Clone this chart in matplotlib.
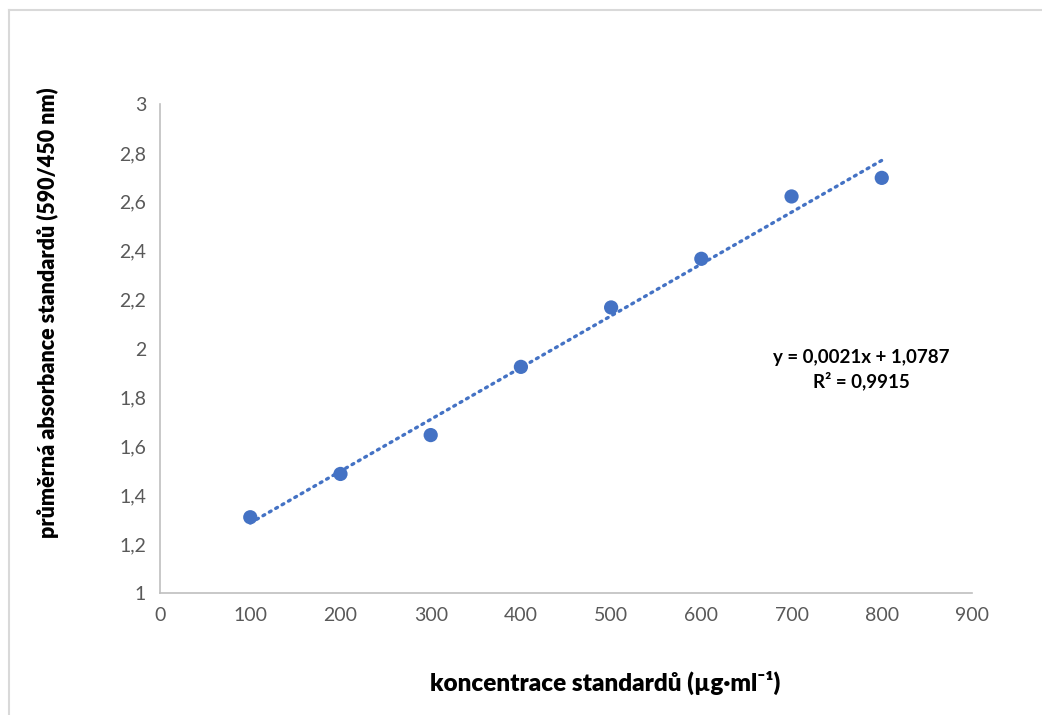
"""
Kalibracni krivka - absorbance standardu
"""

import numpy as np
import matplotlib.pyplot as plt
from matplotlib.lines import Line2D

#Data
konc = [100, 200, 300, 400, 500, 600, 700, 800]
absorbance = [1.31, 1.487, 1.646, 1.925, 2.168, 2.367, 2.622, 2.698]

x_ticks = [0, 100, 200, 300, 400, 500, 600, 700, 800, 900]
y_ticks = [1, 1.2, 1.4, 1.6, 1.8, 2, 2.2, 2.4, 2.6, 2.8, 3]
y_labels = ["1", "1,2", "1,4", "1,6", "1,8", "2", "2,2", "2,4", "2,6", "2,8", "3"]

rovnice = "y = 0,0021x + 1,0787"
r2 = "R² = 0,9915"

fonts = ["Lato", "DejaVu Sans"]
plt.rcParams['font.family'] = fonts

blue = "#4472C4"
grey = "#595959"

fig = plt.figure(figsize=(10.42, 7.15), dpi=100)
ax = fig.add_axes([0.1536, 0.1706, 0.7792, 0.6839])

#Linear trendline
k, q = np.polyfit(konc, absorbance, 1)
xt = np.array([konc[0], konc[-1]])
ax.plot(xt, k * xt + q, color=blue, lw=2.4, linestyle=(0, (0.6, 1.6)),
        dash_capstyle="round", zorder=2)

ax.scatter(konc, absorbance, s=105, color=blue, zorder=3, edgecolors="none")

ax.set_xlim(0, 900)
ax.set_ylim(1, 3)
ax.set_xticks(x_ticks)
ax.set_yticks(y_ticks)
ax.set_yticklabels(y_labels)
ax.tick_params(length=0, labelsize=14, colors=grey, pad=10)

for side in ["top", "right"]:
    ax.spines[side].set_visible(False)
for side in ["left", "bottom"]:
    ax.spines[side].set_color("#BFBFBF")
    ax.spines[side].set_linewidth(1.2)

#Axis titles
fig.text(0.581, 0.045, "koncentrace standardů (µg·ml⁻¹)", fontsize=17.5,
         fontweight="heavy", ha="center", va="center")
fig.text(0.046, 0.562, "průměrná absorbance standardů (590/450 nm)",
         fontsize=15.5, fontweight="heavy", ha="center", va="center",
         rotation=90)

ax.text(777, 1.965, rovnice, ha="center", va="center", fontsize=13.5,
        fontweight="bold")
ax.text(777, 1.867, r2, ha="center", va="center", fontsize=13.5,
        fontweight="bold")

#Outer frame
fig.add_artist(Line2D([0.009, 1.0], [0.986, 0.986], color="#D9D9D9", lw=1.5,
                      transform=fig.transFigure))
fig.add_artist(Line2D([0.009, 0.009], [0.0, 0.986], color="#D9D9D9", lw=1.5,
                      transform=fig.transFigure))

fig.savefig("out.png", dpi=100)
